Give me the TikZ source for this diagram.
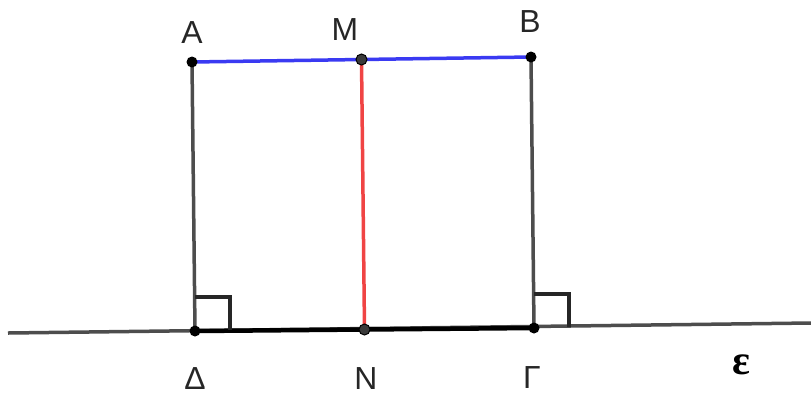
\documentclass[tikz,border=0pt]{standalone}
\usepackage{fontspec}
\setmainfont{Liberation Sans}
\newfontfamily\epsfont{Liberation Serif}
\usepackage{tikz}
\usetikzlibrary{calc}
\definecolor{segblue}{HTML}{3A3AF2}
\definecolor{segred}{HTML}{F04444}
\definecolor{lgray}{HTML}{4D4D4D}
\definecolor{ptgray}{HTML}{3A3A3A}

\tikzset{
  pt/.style={circle,fill=black,inner sep=0pt,minimum size=11bp},
  midpt/.style={pt,fill=ptgray,draw=black,line width=1bp},
  lbl/.style={font=\fontsize{32}{34}\selectfont,text=black!85,inner sep=0pt},
  thin seg/.style={lgray,line width=3.5bp},
}

\begin{document}
\begin{tikzpicture}[x=1bp,y=-1bp]
  \useasboundingbox (0,0) rectangle (811,396);
  % the line epsilon and its points
  \coordinate (eL) at (8,333);
  \coordinate (eR) at (811,323);
  \coordinate (D) at (195,331);
  \coordinate (G) at (534,328);
  \coordinate (N) at ($(D)!0.5!(G)$);
  \coordinate (A) at (192,62);
  \coordinate (B) at (531,57);
  \coordinate (M) at ($(A)!0.5!(B)$);

  \draw[thin seg] (eL) -- (eR);
  \draw[black,line width=4.5bp] (D) -- (G);
  \draw[thin seg] (A) -- (D);
  \draw[thin seg] (B) -- (G);
  % right angles
  \foreach \p in {D,G}{
    \draw[thin seg,black!85] (\p) ++(0,-34) -- ++(35,0) -- ++(0,33);}
  \draw[segblue,line width=3.5bp] (A) -- (B);
  \draw[segred,line width=3.5bp] (M) -- (N);

  \foreach \p in {A,B,D,G}
    \node[pt] (p\p) at (\p) {};
  \foreach \p in {M,N}
    \node[midpt] (p\p) at (\p) {};

  \foreach \p/\t/\x/\y in {A/A/192/33, M/M/345/30, B/B/530/22,
                           D/Δ/195/379, N/N/366/379, G/Γ/532/378}
    \node[lbl] (l\p) at (\x,\y) {\t};
  \node[font=\fontsize{42}{44}\selectfont\epsfont\bfseries,inner sep=0pt] (leps) at (741,365) {ε};
\end{tikzpicture}
\end{document}
